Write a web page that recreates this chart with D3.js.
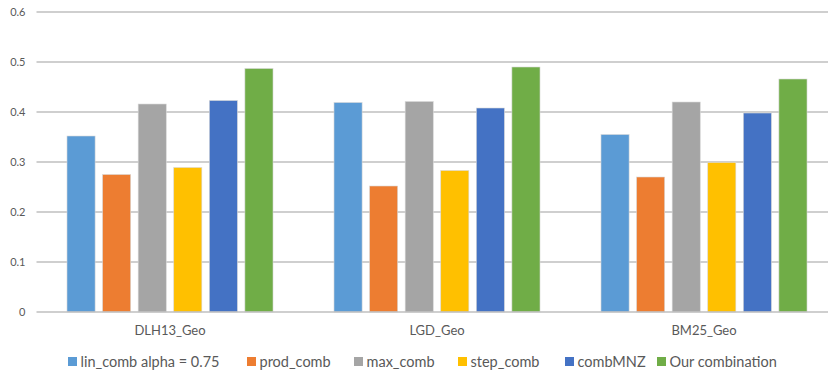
<!DOCTYPE html>
<html>
<head>
<meta charset="utf-8">
<script src="https://cdn.jsdelivr.net/npm/d3@7"></script>
<style>
  html, body { margin: 0; padding: 0; background: #fff; }
  svg { display: block; }
  text { font-family: Lato, "Open Sans", sans-serif; fill: #595959; }
</style>
</head>
<body>
<svg id="chart" width="828" height="374"></svg>
<script>
// Datasets on the x axis
const categories = ["DLH13_Geo", "LGD_Geo", "BM25_Geo"];
// Fusion methods (one bar per method in each dataset group)
const seriesNames = ["lin_comb alpha = 0.75", "prod_comb", "max_comb", "step_comb", "combMNZ", "Our combination"];
const linComb  = [0.352, 0.419, 0.355];
const prodComb = [0.275, 0.252, 0.270];
const maxComb  = [0.416, 0.421, 0.420];
const stepComb = [0.289, 0.283, 0.299];
const combMNZ  = [0.423, 0.408, 0.398];
const ourComb  = [0.487, 0.490, 0.466];
const yTicks = [0, 0.1, 0.2, 0.3, 0.4, 0.5, 0.6];

const seriesValues = [linComb, prodComb, maxComb, stepComb, combMNZ, ourComb];
const colors = ["#5B9BD5", "#ED7D31", "#A5A5A5", "#FFC000", "#4472C4", "#70AD47"];

const svg = d3.select("#chart");

const x0 = d3.scaleBand().domain(categories).range([36.5, 837.5]).padding(0);
const x1 = d3.scaleBand().domain(seriesNames).range([0, x0.bandwidth()])
  .paddingInner(0.21).paddingOuter(0.857);
const y = d3.scaleLinear().domain([0, 0.6]).range([312, 12]);

// Horizontal gridlines
svg.append("g").selectAll("line").data(yTicks.filter(t => t > 0)).join("line")
  .attr("x1", 36.5).attr("x2", 828)
  .attr("y1", d => y(d)).attr("y2", d => y(d))
  .attr("stroke", "#bfbfbf").attr("stroke-width", 1.3);

// Y axis tick labels
const yAxis = d3.axisLeft(y).tickValues(yTicks).tickSize(0).tickPadding(11)
  .tickFormat(d => d === 0 ? "0" : d3.format(".1f")(d));
const gy = svg.append("g").attr("transform", "translate(36.5,0)").call(yAxis);
gy.select(".domain").remove();
gy.selectAll("text").style("font-size", "11px").attr("fill", "#595959")
  .style("font-family", "Lato, 'Open Sans', sans-serif");

// Bars
const groups = svg.append("g").selectAll("g").data(categories).join("g")
  .attr("transform", d => `translate(${x0(d)},0)`);
groups.selectAll("rect")
  .data((c, ci) => seriesNames.map((s, si) => ({ s, si, v: seriesValues[si][ci] })))
  .join("rect")
  .attr("x", d => x1(d.s))
  .attr("width", x1.bandwidth())
  .attr("y", d => y(d.v))
  .attr("height", d => y(0) - y(d.v))
  .attr("fill", d => colors[d.si])
  .attr("stroke", "#d9d9d9").attr("stroke-width", 0.6);

// Baseline
svg.append("line").attr("x1", 36.5).attr("x2", 828)
  .attr("y1", y(0)).attr("y2", y(0))
  .attr("stroke", "#bfbfbf").attr("stroke-width", 1.5);

// Category labels
const xAxis = d3.axisBottom(x0).tickSize(0).tickPadding(14);
const gx = svg.append("g").attr("transform", `translate(0,${y(0)})`).call(xAxis);
gx.select(".domain").remove();
gx.selectAll("text").style("font-size", "13px").attr("fill", "#595959")
  .style("font-family", "Lato, 'Open Sans', sans-serif");

// Legend
const legendX = [68, 247, 354, 458, 565, 657];
const legend = svg.append("g").selectAll("g").data(seriesNames).join("g")
  .attr("transform", (d, i) => `translate(${legendX[i]},362)`);
legend.append("rect").attr("x", 0).attr("y", -5).attr("width", 9).attr("height", 9)
  .attr("fill", (d, i) => colors[i]);
legend.append("text").attr("x", 12.5).attr("y", 0).attr("dy", "0.35em")
  .style("font-size", "14.5px").text(d => d);
</script>
</body>
</html>
